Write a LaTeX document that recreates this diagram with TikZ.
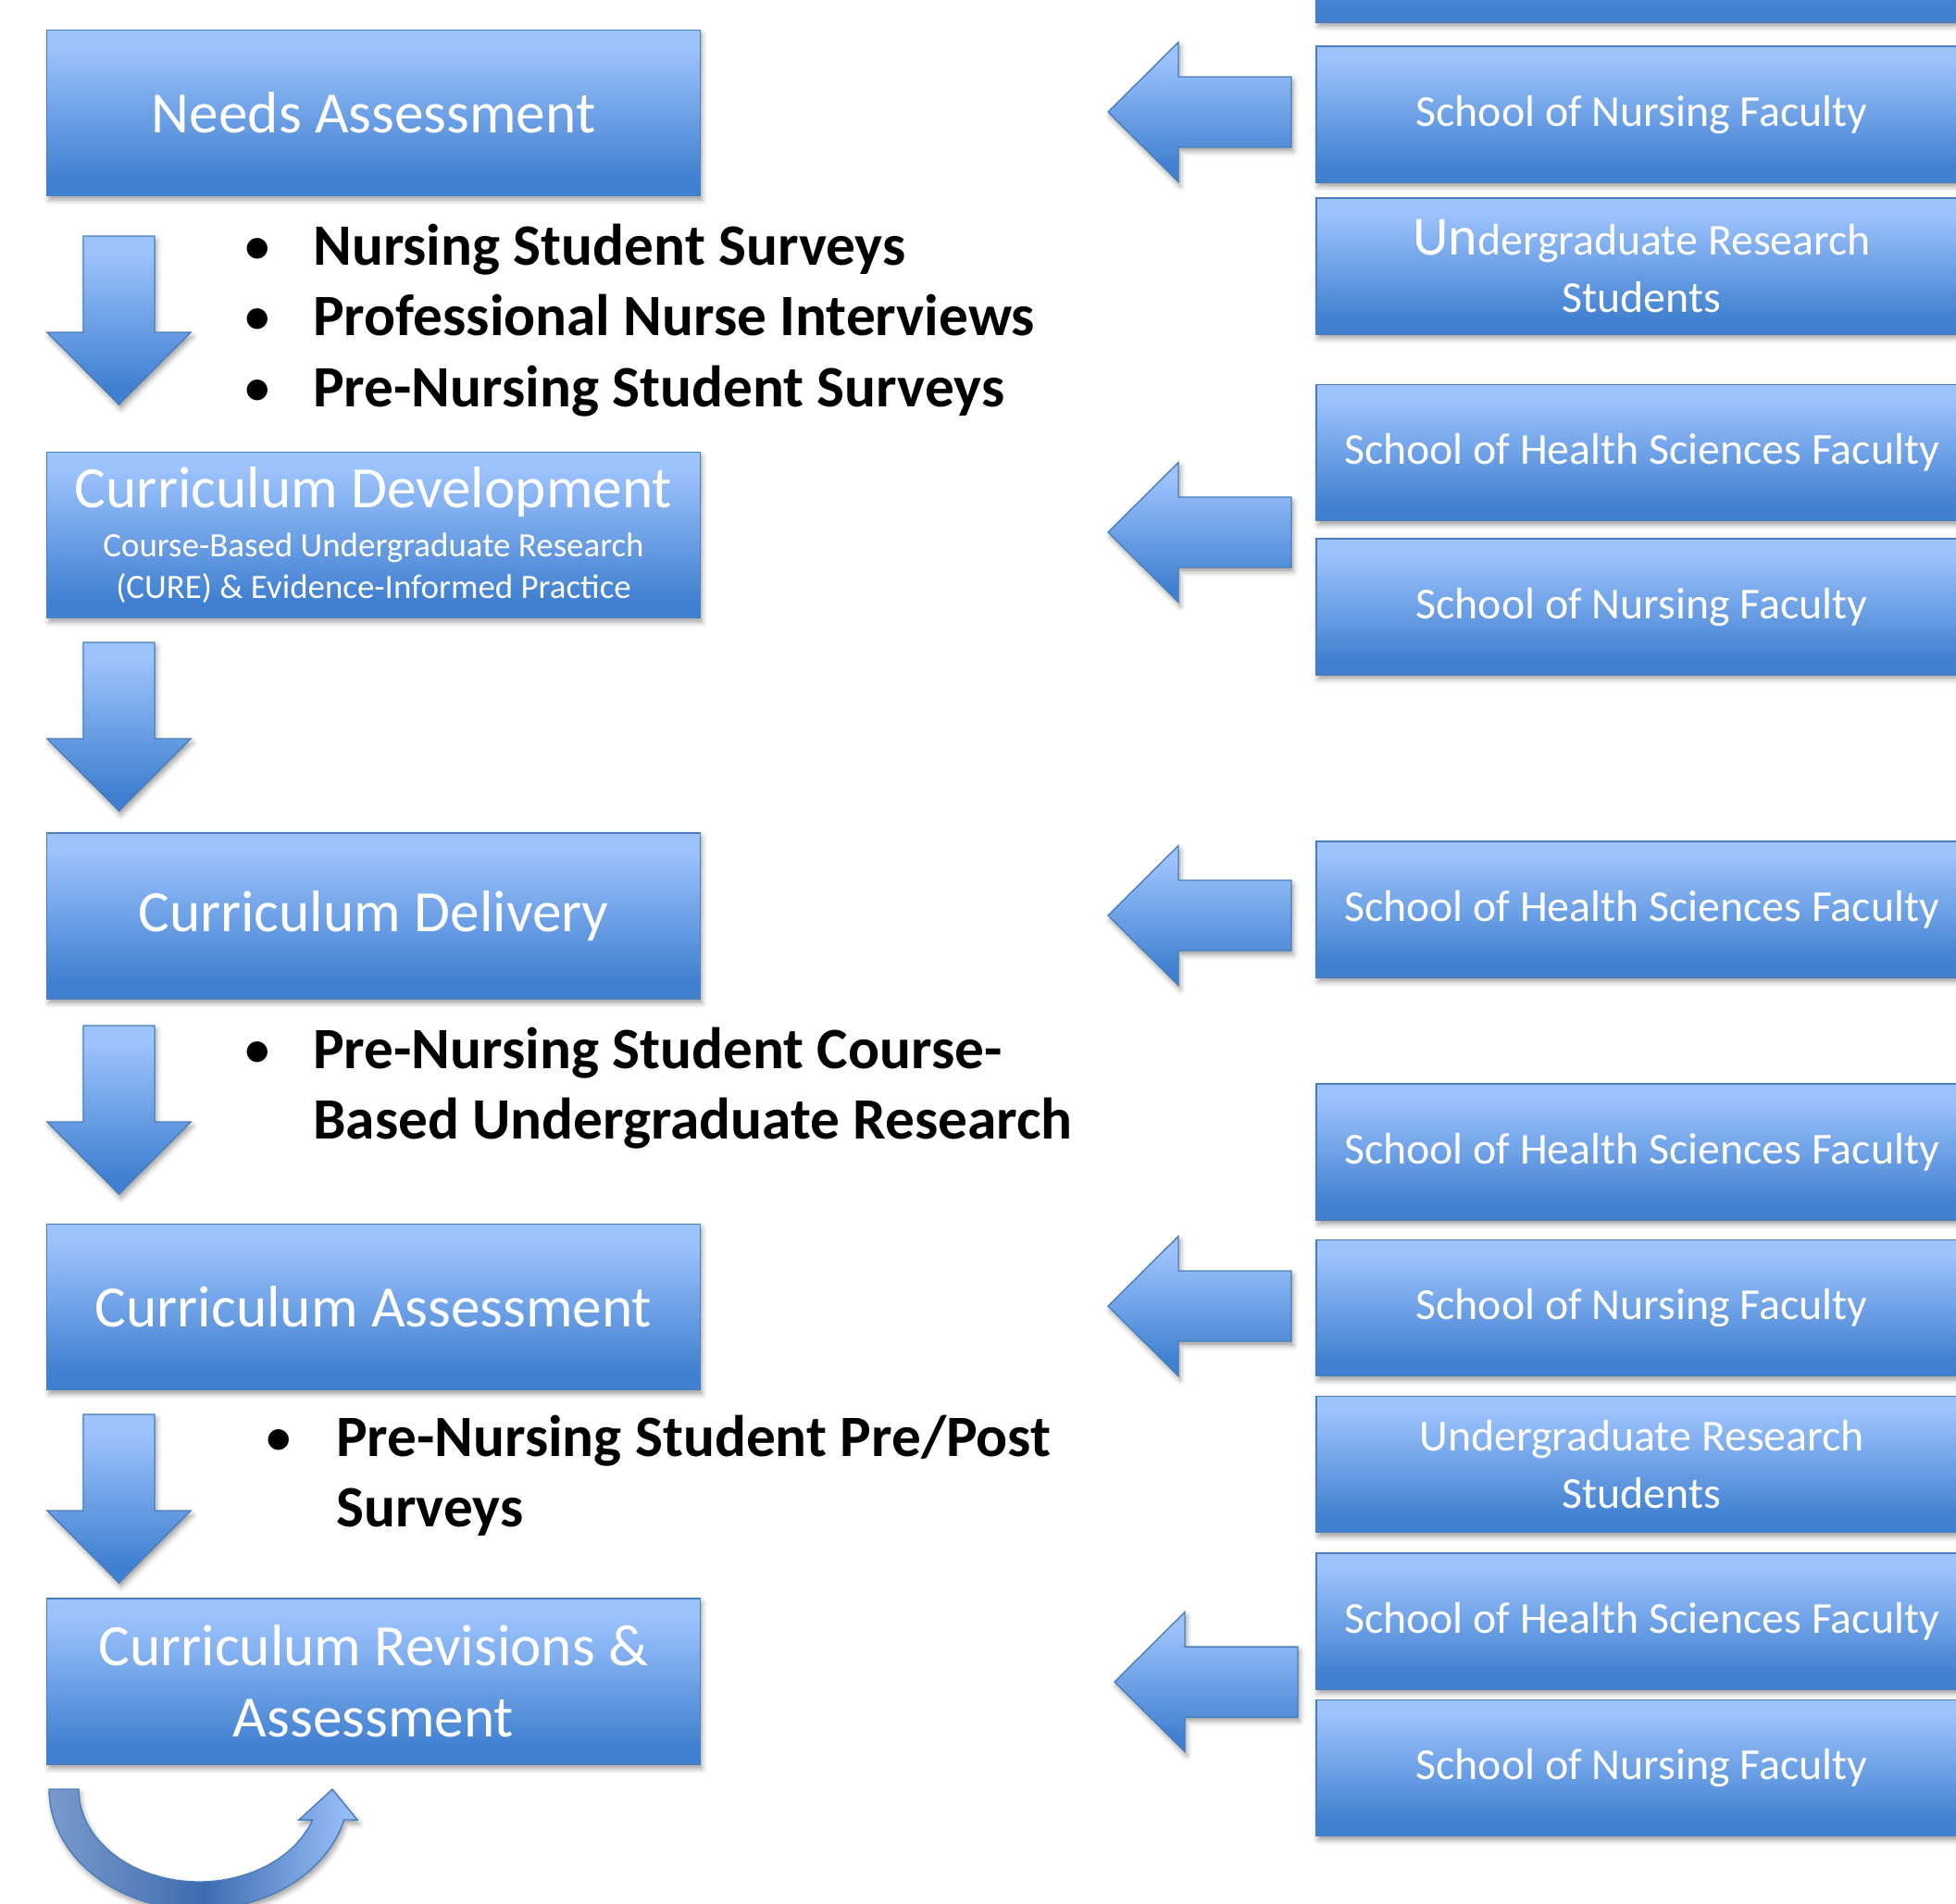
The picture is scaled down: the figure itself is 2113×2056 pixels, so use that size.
\documentclass[tikz,border=0pt]{standalone}
\usepackage{fontspec}
\setmainfont{Carlito}
\usetikzlibrary{shadows.blur}
\definecolor{boxtop}{RGB}{157,195,253}
\definecolor{boxbot}{RGB}{64,128,208}
\definecolor{boxline}{RGB}{74,126,187}
\definecolor{curvetop}{RGB}{122,154,204}
\definecolor{curvemid}{RGB}{62,108,176}
\pgfdeclareverticalshading{panelfill}{100bp}{color(0bp)=(boxbot); color(25bp)=(boxbot);
  color(30bp)=(boxbot); color(70bp)=(boxtop); color(75bp)=(boxtop); color(100bp)=(boxtop)}
\newcommand{\devsub}{\fontsize{10.5}{12.8}\selectfont}
\newcommand{\dotmark}{{\mdseries\textbullet}}
\tikzset{
  % soft drop shadow under every block
  softshadow/.style={blur shadow={shadow xshift=0.6pt, shadow yshift=-1.3pt,
                     shadow blur radius=1.6pt, shadow opacity=38}},
  % stages of the cycle (left column)
  stagebox/.style={draw=boxline, line width=0.4pt, shade, shading=panelfill, softshadow,
    text=white, minimum width=7.05cm, minimum height=1.79cm, inner sep=0pt,
    align=center, font=\fontsize{18}{21.9}\selectfont},
  % who takes part (right column)
  teambox/.style={draw=boxline, line width=0.4pt, shade, shading=panelfill, softshadow,
    text=white, minimum width=7.03cm, minimum height=1.47cm, inner sep=0pt,
    align=center, font=\fontsize{13.6}{17.5}\selectfont},
  % block arrows
  blockarrow/.style={draw=boxline, line width=0.4pt, shade, shading=panelfill, softshadow},
  curvearrow/.style={draw=boxline, line width=0.4pt, left color=curvetop,
    right color=boxtop, middle color=curvemid, softshadow},
  % bold bullet lists between the stages
  itemlist/.style={inner sep=0pt, anchor=base west, text=black,
    font=\bfseries\fontsize{18}{21.8}\selectfont},
}
\def\downarrowpath{(-38.5,0) -- (38.5,0) -- (38.5,104) -- (77.5,104) -- (0,182)
  -- (-77.5,104) -- (-38.5,104) -- cycle}
\def\leftarrowpath{(0,0) -- (76,-75.5) -- (76,-38) -- (198,-38) -- (198,38)
  -- (76,38) -- (76,75.5) -- cycle}

\begin{document}
\begin{tikzpicture}[x=0.01cm, y=-0.01cm]
    \useasboundingbox (0,0) rectangle (2113,2056);
    \clip (0,0) rectangle (2113,2056);
    % stages
    \node[stagebox] (needs) at (403.5,122) {Needs Assessment};
    \node[stagebox, font=\fontsize{18}{12.8}\selectfont] (develop) at (403.5,578)
      {Curriculum Development\\[2.5pt]\devsub Course-Based Undergraduate Research\\
       \devsub (CURE) \& Evidence-Informed Practice};
    \node[stagebox] (deliver) at (403.5,989.5) {Curriculum Delivery};
    \node[stagebox] (assess) at (403.5,1412) {Curriculum Assessment};
    \node[stagebox] (revise) at (403.5,1816.5) {Curriculum Revisions \&\\Assessment};
    % arrows down between the stages
    \draw[blockarrow, shift={(128.5,255)}] \downarrowpath;
    \draw[blockarrow, shift={(128.5,694)}] \downarrowpath;
    \draw[blockarrow, shift={(128.5,1108)}] \downarrowpath;
    \draw[blockarrow, shift={(128.5,1528)}] \downarrowpath;
    % data sources
    \node[itemlist] (needsitems) at (262,286) {\begin{tabular}[t]{@{}p{21.5pt}@{}l@{}}
      \dotmark & Nursing Student Surveys\\
      \dotmark & Professional Nurse Interviews\\
      \dotmark & Pre-Nursing Student Surveys
    \end{tabular}};
    \node[itemlist] (deliveritems) at (262,1154) {\begin{tabular}[t]{@{}p{21.5pt}@{}l@{}}
      \dotmark & Pre-Nursing Student Course-\\
               & Based Undergraduate Research
    \end{tabular}};
    \node[itemlist] (assessitems) at (285,1573) {\begin{tabular}[t]{@{}p{22pt}@{}l@{}}
      \dotmark & Pre-Nursing Student Pre/Post\\
               & Surveys
    \end{tabular}};
    % loop back after revisions
    \draw[curvearrow] (53,1933) arc[start angle=180, end angle=14.7, x radius=162, y radius=130]
      -- (386,1966) -- (359,1933) -- (323,1966) -- (337.7,1966)
      arc[start angle=19.3, end angle=180, x radius=130, y radius=100] -- cycle;
    % contributors
    \node[teambox] (topteam) at (1773.5,-49.5) {};
    \node[teambox] (nurse1) at (1773.5,123.5) {School of Nursing Faculty};
    \node[teambox] (ugrad1) at (1773.5,287.5)
      {{\fontsize{17}{17.5}\selectfont Un}dergraduate Research\\Students};
    \node[teambox] (health1) at (1773.5,489) {School of Health Sciences Faculty};
    \node[teambox] (nurse2) at (1773.5,655.5) {School of Nursing Faculty};
    \node[teambox] (health2) at (1773.5,982.5) {School of Health Sciences Faculty};
    \node[teambox] (health3) at (1773.5,1244.5) {School of Health Sciences Faculty};
    \node[teambox] (nurse3) at (1773.5,1413) {School of Nursing Faculty};
    \node[teambox] (ugrad2) at (1773.5,1582) {Undergraduate Research\\Students};
    \node[teambox] (health4) at (1773.5,1751.5) {School of Health Sciences Faculty};
    \node[teambox] (nurse4) at (1773.5,1910) {School of Nursing Faculty};
    % arrows from contributors to the stages
    \draw[blockarrow, shift={(1197,121)}] \leftarrowpath;
    \draw[blockarrow, shift={(1197,575)}] \leftarrowpath;
    \draw[blockarrow, shift={(1197,989)}] \leftarrowpath;
    \draw[blockarrow, shift={(1197,1411)}] \leftarrowpath;
    \draw[blockarrow, shift={(1204,1817)}] \leftarrowpath;
\end{tikzpicture}
\end{document}
